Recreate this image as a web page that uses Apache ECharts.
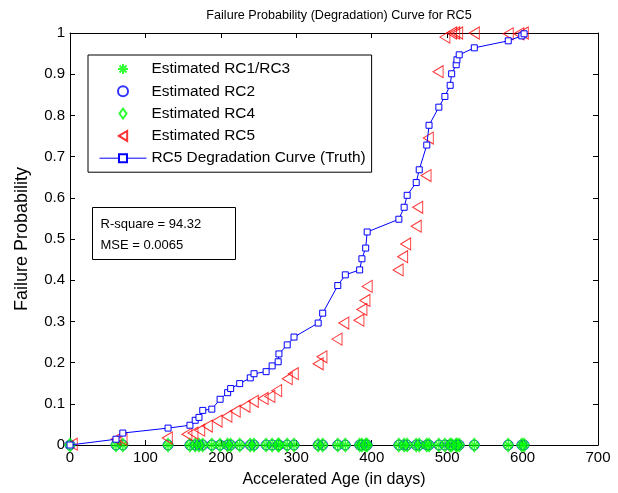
<!DOCTYPE html>
<html>
<head>
<meta charset="utf-8">
<script src="https://cdn.jsdelivr.net/npm/echarts@6/dist/echarts.min.js"></script>
<style>
    html, body { margin: 0; padding: 0; background: #fff; }
    #chart { width: 618px; height: 493px; }
</style>
</head>
<body>
<div id="chart"></div>
<script>
// Truth degradation curve (age in days, failure probability)
const truthAge = [0, 61, 70, 130, 159, 166, 171, 176, 188, 199, 209, 213, 225, 239, 244, 260, 268, 276, 277, 288,
    297, 329, 335, 355, 365, 384, 387, 392, 394, 436, 443, 447, 459, 463, 473, 476, 489, 497, 504, 506,
    512, 513, 516, 536, 581, 599, 602];
const truthProb = [0, 0.014, 0.029, 0.041, 0.048, 0.060, 0.067, 0.084, 0.087, 0.111, 0.127, 0.137, 0.149, 0.163, 0.173, 0.178, 0.192, 0.202, 0.221, 0.243,
    0.262, 0.296, 0.320, 0.387, 0.413, 0.425, 0.452, 0.478, 0.517, 0.548, 0.577, 0.606, 0.637, 0.668, 0.728, 0.776, 0.820, 0.846, 0.873, 0.901,
    0.923, 0.935, 0.947, 0.964, 0.981, 0.993, 0.998];

// Estimated RC5 (triangles)
const rc5Age = [3, 61, 69, 129, 155, 163, 172, 182, 195, 208, 219, 232, 243, 256, 265, 274, 288, 296, 329, 334,
    354, 363, 383, 387, 391, 394, 435, 441, 445, 459, 461, 472, 475, 488, 497, 506, 510, 514, 536, 581, 595, 601];
const rc5Prob = [0.002, 0.014, 0.014, 0.017, 0.026, 0.029, 0.036, 0.046, 0.058, 0.070, 0.082, 0.094, 0.106, 0.113, 0.118, 0.132, 0.161, 0.173, 0.197, 0.214,
    0.257, 0.296, 0.303, 0.329, 0.351, 0.385, 0.425, 0.457, 0.488, 0.531, 0.577, 0.654, 0.745, 0.906, 0.99, 1.0, 1.0, 1.0, 1.0, 0.998, 0.998, 1.0];

// Estimated RC1/RC3, RC2, RC4 all sit at zero probability
const rcZeroAge = truthAge;

const xTicks = { min: 0, max: 700, interval: 100 };
const yTicks = { min: 0, max: 1, interval: 0.1 };

const FONT = '"Liberation Sans", Arial, Helvetica, sans-serif';
const starPath = 'path://M5,0L5,10M0,5L10,5M1.5,1.5L8.5,8.5M1.5,8.5L8.5,1.5';
const leftTriPath = 'path://M0,6L10,0L10,12Z';
const diamondPath = 'path://M5,0L10,7L5,14L0,7Z';

const chart = echarts.init(document.getElementById('chart'));

const zeroPoints = rcZeroAge.map(a => [a, 0]);

function boxAxis(position, ticks, showLabel) {
    return {
        type: 'value',
        position: position,
        min: ticks.min,
        max: ticks.max,
        interval: ticks.interval,
        axisLine: { show: true, onZero: false, lineStyle: { color: '#000', width: 1 } },
        axisTick: { show: true, inside: true, length: 5, lineStyle: { color: '#000' } },
        axisLabel: { show: showLabel, color: '#000', fontFamily: FONT, fontSize: 15, margin: 5 },
        splitLine: { show: false }
    };
}

const xMain = boxAxis('bottom', xTicks, true);
xMain.name = 'Accelerated Age (in days)';
xMain.nameLocation = 'middle';
xMain.nameGap = 27;
xMain.nameTextStyle = { color: '#000', fontFamily: FONT, fontSize: 16 };

const yMain = boxAxis('left', yTicks, true);
yMain.name = 'Failure Probability';
yMain.nameLocation = 'middle';
yMain.nameGap = 39;
yMain.nameTextStyle = { color: '#000', fontFamily: FONT, fontSize: 18 };

chart.setOption({
    animation: false,
    backgroundColor: '#fff',
    title: {
        text: 'Failure Probability (Degradation) Curve for RC5',
        left: 334,
        textAlign: 'center',
        top: 4,
        textStyle: { color: '#000', fontFamily: FONT, fontSize: 12.6, fontWeight: 'normal' }
    },
    grid: { left: 70, right: 20, top: 33, bottom: 44 },
    xAxis: [xMain, boxAxis('top', xTicks, false)],
    yAxis: [yMain, boxAxis('right', yTicks, false)],
    legend: {
        orient: 'vertical',
        left: 88,
        top: 55,
        padding: [6, 6, 6, 11],
        itemWidth: 47,
        itemHeight: 10,
        itemGap: 6.3,
        borderColor: '#000',
        borderWidth: 1,
        backgroundColor: '#fff',
        lineStyle: { width: 1 },
        textStyle: { color: '#000', fontFamily: FONT, fontSize: 15.4, lineHeight: 16 },
        data: ['Estimated RC1/RC3', 'Estimated RC2', 'Estimated RC4', 'Estimated RC5', 'RC5 Degradation Curve (Truth)']
    },
    graphic: [{
        type: 'group',
        left: 92,
        top: 207,
        children: [{
            type: 'rect',
            shape: { x: 0, y: 0, width: 143, height: 52 },
            style: { fill: '#fff', stroke: '#000', lineWidth: 1 }
        }, {
            type: 'text',
            x: 8,
            y: 6,
            style: {
                text: 'R-square = 94.32\nMSE = 0.0065',
                fill: '#000',
                font: '13px ' + FONT,
                lineHeight: 21
            }
        }]
    }],
    series: [{
        name: 'Estimated RC1/RC3',
        type: 'scatter',
        clip: false,
        symbol: starPath,
        symbolSize: 10,
        itemStyle: { color: 'none', borderColor: '#00ff00', borderWidth: 1.5 },
        data: zeroPoints,
        z: 2
    }, {
        name: 'Estimated RC2',
        type: 'scatter',
        clip: false,
        symbol: 'circle',
        symbolSize: 10,
        itemStyle: { color: 'none', borderColor: '#0000ff', borderWidth: 1 },
        data: zeroPoints,
        z: 3
    }, {
        name: 'Estimated RC4',
        type: 'scatter',
        clip: false,
        symbol: diamondPath,
        symbolSize: [10, 13],
        itemStyle: { color: 'none', borderColor: '#00ff00', borderWidth: 1.5 },
        data: zeroPoints,
        z: 4
    }, {
        name: 'Estimated RC5',
        type: 'scatter',
        clip: false,
        symbol: leftTriPath,
        symbolSize: [10, 12],
        itemStyle: { color: 'none', borderColor: '#ff0000', borderWidth: 1 },
        data: rc5Age.map((a, i) => [a, rc5Prob[i]]),
        z: 5
    }, {
        name: 'RC5 Degradation Curve (Truth)',
        type: 'line',
        clip: false,
        symbol: 'rect',
        symbolSize: 6,
        showAllSymbol: true,
        lineStyle: { color: '#0000ff', width: 1 },
        itemStyle: { color: '#fff', borderColor: '#0000ff', borderWidth: 1 },
        data: truthAge.map((a, i) => [a, truthProb[i]]),
        z: 6
    }]
});
</script>
</body>
</html>
